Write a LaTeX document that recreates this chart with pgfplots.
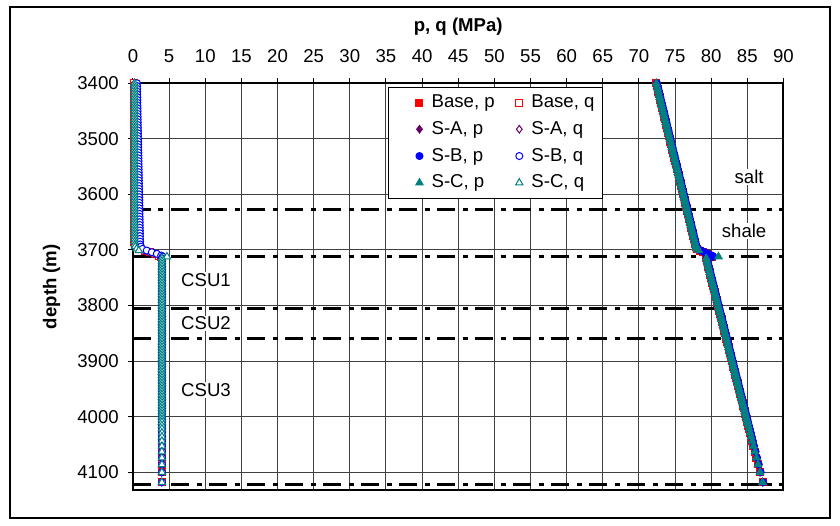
\documentclass[border=0pt]{standalone}
\usepackage{fontspec}
\setmainfont{Liberation Sans}
\usepackage{pgfplots}
\usepackage{pgfplotstable}
\pgfplotsset{compat=1.18}

\definecolor{cBase}{RGB}{255,0,0}
\definecolor{cA}{RGB}{102,0,102}
\definecolor{cB}{RGB}{0,0,255}
\definecolor{cC}{RGB}{0,128,128}
\newcommand{\fs}{\fontsize{9.3pt}{11pt}\selectfont}

% depth (m), mean stress p and deviatoric stress q (MPa) for the four cases
\pgfplotstableread{
d     pBase  pA     pB     pC     qBase qA   qB   qC
3400  72.40  72.40  72.50  72.40  0.10  0.20 0.55 0.20
3405  72.49  72.49  72.59  72.49  0.10  0.20 0.56 0.20
3410  72.59  72.59  72.69  72.59  0.10  0.20 0.57 0.20
3415  72.68  72.68  72.78  72.68  0.10  0.20 0.57 0.20
3420  72.77  72.77  72.87  72.77  0.10  0.20 0.58 0.20
3425  72.87  72.87  72.97  72.87  0.10  0.20 0.59 0.20
3430  72.96  72.96  73.06  72.96  0.10  0.20 0.60 0.20
3435  73.05  73.05  73.15  73.05  0.10  0.20 0.60 0.20
3440  73.15  73.15  73.25  73.15  0.10  0.20 0.61 0.20
3445  73.24  73.24  73.34  73.24  0.10  0.20 0.62 0.20
3450  73.33  73.33  73.43  73.33  0.10  0.20 0.63 0.20
3455  73.43  73.43  73.53  73.43  0.10  0.20 0.63 0.20
3460  73.52  73.52  73.62  73.52  0.10  0.20 0.64 0.20
3465  73.61  73.61  73.71  73.61  0.10  0.20 0.65 0.20
3470  73.71  73.71  73.81  73.71  0.10  0.20 0.66 0.20
3475  73.80  73.80  73.90  73.80  0.10  0.20 0.66 0.20
3480  73.89  73.89  73.99  73.89  0.10  0.20 0.67 0.20
3485  73.99  73.99  74.09  73.99  0.10  0.20 0.68 0.20
3490  74.08  74.08  74.18  74.08  0.10  0.20 0.69 0.20
3495  74.17  74.17  74.27  74.17  0.10  0.20 0.69 0.20
3500  74.27  74.27  74.37  74.27  0.10  0.20 0.70 0.20
3505  74.36  74.36  74.46  74.36  0.10  0.20 0.71 0.20
3510  74.45  74.45  74.55  74.45  0.10  0.20 0.72 0.20
3515  74.55  74.55  74.65  74.55  0.10  0.20 0.72 0.20
3520  74.64  74.64  74.74  74.64  0.10  0.20 0.73 0.20
3525  74.73  74.73  74.83  74.73  0.10  0.20 0.74 0.20
3530  74.83  74.83  74.93  74.83  0.10  0.20 0.75 0.20
3535  74.92  74.92  75.02  74.92  0.10  0.20 0.75 0.20
3540  75.01  75.01  75.11  75.01  0.10  0.20 0.76 0.20
3545  75.11  75.11  75.21  75.11  0.10  0.20 0.77 0.20
3550  75.20  75.20  75.30  75.20  0.10  0.20 0.78 0.20
3555  75.29  75.29  75.39  75.29  0.10  0.20 0.78 0.20
3560  75.39  75.39  75.49  75.39  0.10  0.20 0.79 0.20
3565  75.48  75.48  75.58  75.48  0.10  0.20 0.80 0.20
3570  75.57  75.57  75.67  75.57  0.10  0.20 0.81 0.20
3575  75.67  75.67  75.77  75.67  0.10  0.20 0.81 0.20
3580  75.76  75.76  75.86  75.76  0.10  0.20 0.82 0.20
3585  75.85  75.85  75.95  75.85  0.10  0.20 0.83 0.20
3590  75.95  75.95  76.05  75.95  0.10  0.20 0.84 0.20
3595  76.04  76.04  76.14  76.04  0.10  0.20 0.84 0.20
3600  76.13  76.13  76.23  76.13  0.10  0.20 0.85 0.20
3605  76.23  76.23  76.33  76.23  0.10  0.20 0.86 0.20
3610  76.32  76.32  76.42  76.32  0.10  0.20 0.87 0.20
3615  76.41  76.41  76.51  76.41  0.10  0.20 0.87 0.20
3620  76.51  76.51  76.61  76.51  0.10  0.20 0.88 0.20
3625  76.60  76.60  76.70  76.60  0.10  0.20 0.89 0.20
3630  76.69  76.69  76.79  76.69  0.10  0.20 0.90 0.20
3635  76.79  76.79  76.89  76.79  0.10  0.20 0.90 0.20
3640  76.88  76.88  76.98  76.88  0.10  0.20 0.91 0.20
3645  76.97  76.97  77.07  76.97  0.10  0.20 0.92 0.20
3650  77.07  77.07  77.17  77.07  0.10  0.20 0.93 0.20
3655  77.16  77.16  77.26  77.16  0.10  0.20 0.93 0.20
3660  77.25  77.25  77.35  77.25  0.10  0.20 0.94 0.20
3665  77.35  77.35  77.45  77.35  0.10  0.20 0.95 0.20
3670  77.44  77.44  77.54  77.44  0.10  0.20 0.96 0.20
3675  77.53  77.53  77.63  77.53  0.10  0.20 0.96 0.20
3680  77.63  77.63  77.73  77.63  0.12  0.22 0.97 0.20
3685  77.72  77.72  77.82  77.72  0.15  0.25 0.98 0.22
3690  77.81  77.81  77.91  77.81  0.25  0.30 1.00 0.25
3694  77.90  77.90  78.00  77.89  0.50  0.40 1.10 0.30
3698  78.10  78.05  78.20  77.96  0.90  0.80 1.30 0.50
3701  78.50  78.45  78.60  78.30  1.60  1.50 1.90 0.80
3704  78.90  78.90  79.10  nan    2.30  2.20 2.60 nan
3707  79.40  79.40  79.60  nan    3.00  2.90 3.30 nan
3710  79.90  79.90  80.10  nan    3.60  3.60 3.90 nan
3712  80.10  80.20  80.30  81.00  3.90  4.00 4.10 4.70
3715  79.30  79.30  79.40  79.30  3.95  3.98 4.02 4.00
3720  79.40  79.40  79.50  79.40  3.95  3.98 4.02 4.00
3725  79.49  79.49  79.59  79.49  3.95  3.98 4.02 4.00
3730  79.59  79.59  79.69  79.59  3.95  3.98 4.02 4.00
3735  79.69  79.69  79.79  79.69  3.95  3.98 4.02 4.00
3740  79.78  79.78  79.88  79.78  3.95  3.98 4.02 4.00
3745  79.88  79.88  79.98  79.88  3.95  3.98 4.02 4.00
3750  79.98  79.98  80.08  79.98  3.95  3.98 4.02 4.00
3755  80.07  80.07  80.17  80.07  3.95  3.98 4.02 4.00
3760  80.17  80.17  80.27  80.17  3.95  3.98 4.02 4.00
3765  80.27  80.27  80.37  80.27  3.95  3.98 4.02 4.00
3770  80.36  80.36  80.46  80.36  3.95  3.98 4.02 4.00
3775  80.46  80.46  80.56  80.46  3.95  3.98 4.02 4.00
3780  80.56  80.56  80.66  80.56  3.95  3.98 4.02 4.00
3785  80.65  80.65  80.75  80.65  3.95  3.98 4.02 4.00
3790  80.75  80.75  80.85  80.75  3.95  3.98 4.02 4.00
3795  80.85  80.85  80.95  80.85  3.95  3.98 4.02 4.00
3800  80.94  80.94  81.04  80.94  3.95  3.98 4.02 4.00
3805  81.04  81.04  81.14  81.04  3.95  3.98 4.02 4.00
3810  81.14  81.14  81.24  81.14  3.95  3.98 4.02 4.00
3815  81.24  81.24  81.34  81.24  3.95  3.98 4.02 4.00
3820  81.33  81.33  81.43  81.33  3.95  3.98 4.02 4.00
3825  81.43  81.43  81.53  81.43  3.95  3.98 4.02 4.00
3830  81.53  81.53  81.63  81.53  3.95  3.98 4.02 4.00
3835  81.62  81.62  81.72  81.62  3.95  3.98 4.02 4.00
3840  81.72  81.72  81.82  81.72  3.95  3.98 4.02 4.00
3845  81.82  81.82  81.92  81.82  3.95  3.98 4.02 4.00
3850  81.91  81.91  82.01  81.91  3.95  3.98 4.02 4.00
3855  82.01  82.01  82.11  82.01  3.95  3.98 4.02 4.00
3860  82.11  82.11  82.21  82.11  3.95  3.98 4.02 4.00
3865  82.20  82.20  82.30  82.20  3.95  3.98 4.02 4.00
3870  82.30  82.30  82.40  82.30  3.95  3.98 4.02 4.00
3875  82.40  82.40  82.50  82.40  3.95  3.98 4.02 4.00
3880  82.49  82.49  82.59  82.49  3.95  3.98 4.02 4.00
3885  82.59  82.59  82.69  82.59  3.95  3.98 4.02 4.00
3890  82.69  82.69  82.79  82.69  3.95  3.98 4.02 4.00
3895  82.78  82.78  82.88  82.78  3.95  3.98 4.02 4.00
3900  82.88  82.88  82.98  82.88  3.95  3.98 4.02 4.00
3905  82.98  82.98  83.08  82.98  3.95  3.98 4.02 4.00
3910  83.07  83.07  83.17  83.07  3.95  3.98 4.02 4.00
3915  83.17  83.17  83.27  83.17  3.95  3.98 4.02 4.00
3920  83.27  83.27  83.37  83.27  3.95  3.98 4.02 4.00
3925  83.36  83.36  83.46  83.36  3.95  3.98 4.02 4.00
3930  83.46  83.46  83.56  83.46  3.95  3.98 4.02 4.00
3935  83.56  83.56  83.66  83.56  3.95  3.98 4.02 4.00
3940  83.65  83.65  83.75  83.65  3.95  3.98 4.02 4.00
3945  83.75  83.75  83.85  83.75  3.95  3.98 4.02 4.00
3950  83.85  83.85  83.95  83.85  3.95  3.98 4.02 4.00
3955  83.94  83.94  84.04  83.94  3.95  3.98 4.02 4.00
3960  84.04  84.04  84.14  84.04  3.95  3.98 4.02 4.00
3965  84.14  84.14  84.24  84.14  3.95  3.98 4.02 4.00
3970  84.23  84.23  84.33  84.23  3.95  3.98 4.02 4.00
3975  84.33  84.33  84.43  84.33  3.95  3.98 4.02 4.00
3980  84.43  84.43  84.53  84.43  3.95  3.98 4.02 4.00
3985  84.52  84.52  84.62  84.52  3.95  3.98 4.02 4.00
3990  84.62  84.62  84.72  84.62  3.95  3.98 4.02 4.00
3995  84.72  84.72  84.82  84.72  3.95  3.98 4.02 4.00
4000  84.81  84.81  84.91  84.81  3.95  3.98 4.02 4.00
4005  84.91  84.91  85.01  84.91  3.95  3.98 4.02 4.00
4010  85.01  85.01  85.11  85.01  3.95  3.98 4.02 4.00
4016  85.12  85.12  85.22  85.12  3.95  3.98 4.02 4.00
4022  85.24  85.24  85.34  85.24  3.95  3.98 4.02 4.00
4029  85.38  85.38  85.48  85.38  3.95  3.98 4.02 4.00
4036  85.51  85.51  85.61  85.51  3.95  3.98 4.02 4.00
4044  85.67  85.67  85.77  85.67  3.95  3.98 4.02 4.00
4053  85.84  85.84  85.94  85.84  3.95  3.98 4.02 4.00
4063  86.04  86.04  86.14  86.04  3.95  3.98 4.02 4.00
4074  86.25  86.25  86.35  86.25  3.95  3.98 4.02 4.00
4086  86.48  86.48  86.58  86.48  3.95  3.98 4.02 4.00
4100  86.75  86.75  86.85  86.75  3.95  3.98 4.02 4.00
4118  87.10  87.10  87.20  87.10  3.95  3.98 4.02 4.00
}\stress

\pgfplotsset{
  mk/.style={only marks, mark options={solid, line width=0.5pt},
    legend image code/.code={%
      \path[draw=none, fill=none] (0pt,-1pt) rectangle (0.1pt,1pt);
      \draw[##1] plot coordinates {(14.5pt,0pt)};}},
  boundary/.style={black, line width=1.5pt, forget plot,
    dash pattern=on 9pt off 3.75pt on 2.5pt off 3.75pt},
}

\begin{document}
\begin{tikzpicture}
\useasboundingbox (0,0) rectangle (420pt,262.5pt);
\draw[line width=1pt] (5pt,3.5pt) rectangle (415pt,259pt);
\begin{axis}[
  at={(66.5pt,17.5pt)}, anchor=south west,
  scale only axis, width=325.25pt, height=203.35pt,
  xmin=0, xmax=90, ymin=3400, ymax=4132, y dir=reverse,
  xtick={0,5,...,90}, ytick={3400,3500,...,4100},
  xtick pos=right, xticklabel pos=right, ytick pos=left,
  tick align=outside, major tick length=2.5pt,
  every tick/.style={black, line width=0.5pt},
  xticklabel shift=4.5pt, yticklabel shift=1.1pt,
  grid=major, major grid style={line width=0.5pt, black!75},
  axis line style={line width=1pt},
  tick label style={font=\fs},
  /pgf/number format/assume math mode=true,
  /pgf/number format/1000 sep={},
  xlabel={p, q (MPa)}, ylabel={depth (m)},
  xlabel style={at={(axis description cs:0.5,1.138)}, anchor=center, font=\fs\bfseries},
  ylabel style={at={(axis description cs:-0.125,0.5)}, anchor=center, font=\fs\bfseries},
  clip=false,
  legend columns=2,
  legend cell align=left,
  legend style={at={(rel axis cs:0.392,0.991)}, anchor=north west,
    draw=black, line width=0.5pt, fill=white, font=\fs,
    nodes={font=\fs, inner xsep=3pt, inner ysep=3pt},
    inner xsep=1pt, inner ysep=0.6pt, row sep=-0.6pt,
    /tikz/every odd column/.append style={column sep=1.25pt},
    /tikz/every even column/.append style={column sep=-5.2pt}},
]
% layer boundaries
\addplot[boundary] coordinates {(0,3628) (90,3628)};
\addplot[boundary] coordinates {(0,3712) (90,3712)};
\addplot[boundary] coordinates {(0,3806) (90,3806)};
\addplot[boundary] coordinates {(0,3860) (90,3860)};
\addplot[boundary] coordinates {(0,4122) (90,4122)};

\addplot[mk, mark=square*, mark size=1.75pt, draw=cBase, fill=cBase] table[x=pBase, y=d] {\stress};
\addlegendentry{Base, p}
\addplot[mk, mark=square*, mark size=1.75pt, draw=cBase, fill=white] table[x=qBase, y=d] {\stress};
\addlegendentry{Base, q}
\addplot[mk, mark=diamond*, mark size=1.9pt, draw=cA, fill=cA] table[x=pA, y=d] {\stress};
\addlegendentry{S-A, p}
\addplot[mk, mark=diamond*, mark size=1.9pt, draw=cA, fill=white] table[x=qA, y=d] {\stress};
\addlegendentry{S-A, q}
\addplot[mk, mark=*, mark size=1.75pt, draw=cB, fill=cB] table[x=pB, y=d] {\stress};
\addlegendentry{S-B, p}
\addplot[mk, mark=*, mark size=1.75pt, draw=cB, fill=white] table[x=qB, y=d] {\stress};
\addlegendentry{S-B, q}
\addplot[mk, mark=triangle*, mark size=2.1pt, draw=cC, fill=cC] table[x=pC, y=d] {\stress};
\addlegendentry{S-C, p}
\addplot[mk, mark=triangle*, mark size=2.1pt, draw=cC, fill=white] table[x=qC, y=d] {\stress};
\addlegendentry{S-C, q}

\node[fill=white, inner sep=0.6pt, font=\fs] at (axis cs:85.25,3569) {salt};
\node[fill=white, inner sep=0.6pt, font=\fs] at (axis cs:84.55,3666) {shale};
\node[fill=white, inner sep=0.6pt, font=\fs] at (axis cs:10.1,3754) {CSU1};
\node[fill=white, inner sep=0.6pt, font=\fs] at (axis cs:10.1,3832) {CSU2};
\node[fill=white, inner sep=0.6pt, font=\fs] at (axis cs:10.1,3952) {CSU3};
\end{axis}
\end{tikzpicture}
\end{document}
